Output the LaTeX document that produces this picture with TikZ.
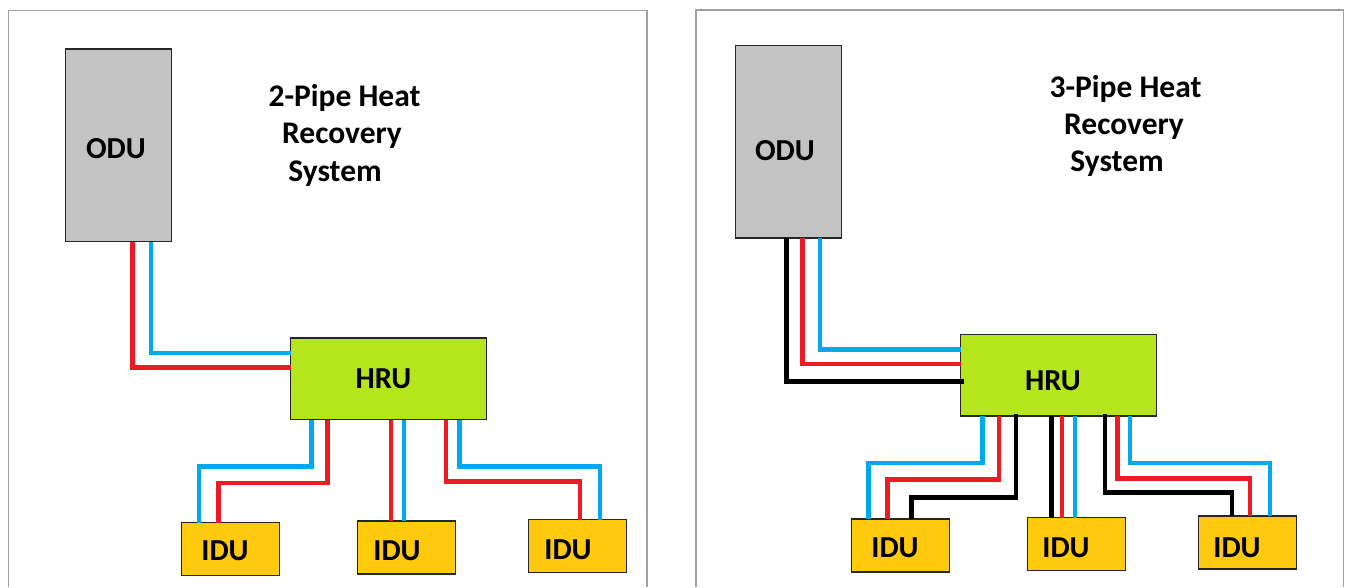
\documentclass[tikz,border=0pt]{standalone}
\usepackage{fontspec}
\setmainfont{Carlito}
\definecolor{pblue}{HTML}{00A8EC}
\definecolor{pred}{HTML}{ED1C24}
\definecolor{hrug}{HTML}{B5E61D}
\definecolor{iduy}{HTML}{FFC90E}
\definecolor{odug}{HTML}{C3C3C3}
\definecolor{framec}{HTML}{A0A0A0}
\tikzset{
  unitbox/.style={draw=black!85,line width=1.6pt,inner sep=0pt,outer sep=0pt,anchor=north west},
  odubox/.style={unitbox,fill=odug,minimum width=106pt,minimum height=192.5pt},
  hrubox/.style={unitbox,fill=hrug,minimum width=196pt,minimum height=81.5pt},
  idubox/.style={unitbox,fill=iduy,minimum width=98pt,minimum height=53pt},
  lab/.style={font=\fontsize{30.5}{30.5}\selectfont\bfseries,inner sep=0pt},
  ttl/.style={font=\fontsize{31.5}{31.5}\selectfont\bfseries,inner sep=0pt},
  bp/.style={draw=pblue,line width=4.3pt},
  rp/.style={draw=pred,line width=4.3pt},
  kp/.style={draw=black,line width=4.3pt},
  panel/.style={draw=framec,line width=1.4pt}
}
\begin{document}
\begin{tikzpicture}[x=1pt,y=-1pt]
\useasboundingbox[fill=white] (0,0) rectangle (1346,587);
% panels
\draw[panel] (8.5,587) -- (8.5,10.5) -- (647,10.5) -- (647,587);
\draw[panel] (696,587) -- (696,10) -- (1343.5,10) -- (1343.5,587);
% left panel
\node[odubox] (oduL) at (65.5,49) {};
\node[hrubox] (hruL) at (290.5,338) {};
\node[idubox] (iduLa) at (181.5,522.5) {};
\node[idubox] (iduLb) at (357.5,521) {};
\node[idubox] (iduLc) at (528.5,519.5) {};
\node[lab] (toduL) at (116,149) {ODU};
\node[lab] (thruL) at (383.5,379) {HRU};
\node[lab] (tiduLa) at (225,551) {IDU};
\node[lab] (tiduLb) at (397,551) {IDU};
\node[lab] (tiduLc) at (568,550) {IDU};
\node[ttl] (tLa) at (344.5,97.5) {2-Pipe Heat};
\node[ttl] (tLb) at (342,135.5) {Recovery};
\node[ttl] (tLc) at (335,173.5) {System};
\draw[rp] ([xshift=67pt]oduL.south west) |- ([yshift=-29.5pt]hruL.north west);
\draw[bp] ([xshift=85.5pt]oduL.south west) |- ([yshift=-14.7pt]hruL.north west);
\draw[bp] ([xshift=21pt]hruL.south west) -- ++(0,47) -| ([xshift=17.5pt]iduLa.north west);
\draw[rp] ([xshift=37pt]hruL.south west) -- ++(0,63.5) -| ([xshift=37pt]iduLa.north west);
\draw[rp] ([xshift=100.5pt]hruL.south west) -- ([xshift=33.5pt]iduLb.north west);
\draw[bp] ([xshift=113.5pt]hruL.south west) -- ([xshift=46.5pt]iduLb.north west);
\draw[rp] ([xshift=155.5pt]hruL.south west) -- ++(0,62) -| ([xshift=51.5pt]iduLc.north west);
\draw[bp] ([xshift=169pt]hruL.south west) -- ++(0,47) -| ([xshift=71.5pt]iduLc.north west);
% right panel
\node[odubox] (oduR) at (735.5,45.5) {};
\node[hrubox] (hruR) at (960.5,334.5) {};
\node[idubox] (iduRa) at (851.5,519) {};
\node[idubox] (iduRb) at (1027.5,517.5) {};
\node[idubox] (iduRc) at (1198.5,516) {};
\node[lab] (toduR) at (785,150.5) {ODU};
\node[lab] (thruR) at (1053,381) {HRU};
\node[lab] (tiduRa) at (895,548) {IDU};
\node[lab] (tiduRb) at (1066,548) {IDU};
\node[lab] (tiduRc) at (1237,548) {IDU};
\node[ttl] (tRa) at (1125.5,88.5) {3-Pipe Heat};
\node[ttl] (tRb) at (1124,126.5) {Recovery};
\node[ttl] (tRc) at (1117,163.5) {System};
\draw[kp] ([xshift=51pt]oduR.south west) |- ([xshift=3pt,yshift=-47pt]hruR.north west);
\draw[rp] ([xshift=67pt]oduR.south west) |- ([yshift=-29.5pt]hruR.north west);
\draw[bp] ([xshift=84.5pt]oduR.south west) |- ([yshift=-15pt]hruR.north west);
\draw[bp] ([xshift=22pt]hruR.south west) -- ++(0,47) -| ([xshift=17pt]iduRa.north west);
\draw[rp] ([xshift=38.5pt]hruR.south west) -- ++(0,63.5) -| ([xshift=36pt]iduRa.north west);
\draw[kp] ([xshift=55.5pt,yshift=2pt]hruR.south west) -- ++(0,83.5) -| ([xshift=60pt]iduRa.north west);
\draw[kp] ([xshift=91pt]hruR.south west) -- ([xshift=24pt]iduRb.north west);
\draw[rp] ([xshift=101.5pt]hruR.south west) -- ([xshift=34.5pt]iduRb.north west);
\draw[bp] ([xshift=114.5pt]hruR.south west) -- ([xshift=47.5pt]iduRb.north west);
\draw[kp] ([xshift=144.5pt,yshift=2pt]hruR.south west) -- ++(0,78.5) -| ([xshift=33.5pt]iduRc.north west);
\draw[rp] ([xshift=157pt]hruR.south west) -- ++(0,62.5) -| ([xshift=51.5pt]iduRc.north west);
\draw[bp] ([xshift=169.5pt]hruR.south west) -- ++(0,47) -| ([xshift=71.5pt]iduRc.north west);
\end{tikzpicture}
\end{document}
